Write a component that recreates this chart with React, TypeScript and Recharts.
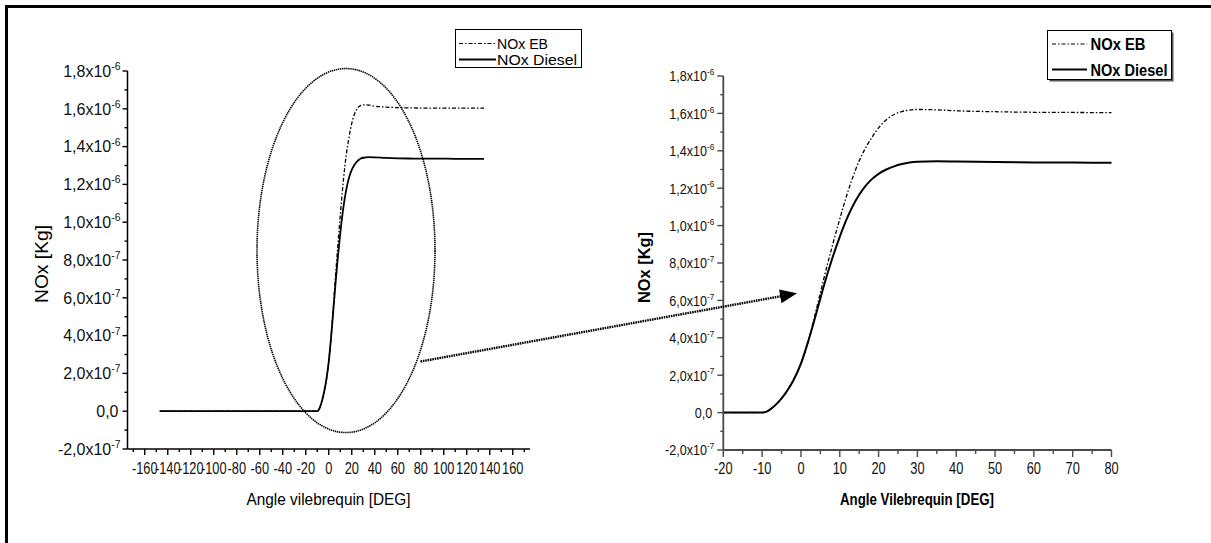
import React from 'react'
import { LineChart, Line, XAxis, YAxis, Legend, ReferenceDot } from 'recharts'

// NOx mass (x 1e-6 kg) vs crank angle (deg)
const angles = [-20, -15, -10, -9, -8, -6, -4, -2, 0, 2, 3, 4, 5, 6, 8, 10, 12, 14, 16, 18, 20, 22, 24, 26, 28, 30, 35, 40, 50, 60, 70, 80]
const noxDiesel = [0, 0, 0, 0.004, 0.016, 0.052, 0.103, 0.17, 0.262, 0.39, 0.46, 0.535, 0.61, 0.685, 0.82, 0.94, 1.045, 1.13, 1.195, 1.243, 1.277, 1.3, 1.317, 1.329, 1.337, 1.341, 1.344, 1.343, 1.34, 1.338, 1.337, 1.336]
const noxEB = [0, 0, 0, 0.004, 0.016, 0.052, 0.103, 0.17, 0.262, 0.39, 0.47, 0.555, 0.64, 0.725, 0.885, 1.035, 1.175, 1.295, 1.39, 1.462, 1.523, 1.566, 1.594, 1.61, 1.618, 1.621, 1.619, 1.614, 1.609, 1.606, 1.605, 1.604]

// extra range shown only on the full-cycle plot
const leadAngles = [-147, -100, -60, -30]
const leadValues = [0, 0, 0, 0]
const tailAngles = [100, 120, 135]
const tailDiesel = [1.336, 1.335, 1.335]
const tailEB = [1.604, 1.604, 1.604]

const yTicks = [-0.2, -0.1, 0, 0.1, 0.2, 0.3, 0.4, 0.5, 0.6, 0.7, 0.8, 0.9, 1.0, 1.1, 1.2, 1.3, 1.4, 1.5, 1.6, 1.7, 1.8]
const leftXTicks = [-170, -160, -150, -140, -130, -120, -110, -100, -90, -80, -70, -60, -50, -40, -30, -20, -10, 0, 10, 20, 30, 40, 50, 60, 70, 80, 90, 100, 110, 120, 130, 140, 150, 160, 170]
const rightXTicks = [-20, -15, -10, -5, 0, 5, 10, 15, 20, 25, 30, 35, 40, 45, 50, 55, 60, 65, 70, 75, 80]

const seriesNames = ['NOx EB', 'NOx Diesel']

const rightData = angles.map((a, i) => ({ angle: a, eb: noxEB[i], diesel: noxDiesel[i] }))
const leftData = [
  ...leadAngles.map((a, i) => ({ angle: a, eb: leadValues[i], diesel: leadValues[i] })),
  ...rightData,
  ...tailAngles.map((a, i) => ({ angle: a, eb: tailEB[i], diesel: tailDiesel[i] })),
]

const FONT = '"Liberation Sans", Arial, Helvetica, sans-serif'
const DASH_DOT = '4 2 1.5 2'

const makeXTick = (step: number, major: number, minor: number, color: string, fontSize: number, sx: number, dy: number) =>
  (props: any) => {
    const { x, y, payload } = props
    const v = Math.round(payload.value)
    const isMajor = v % step === 0
    return (
      <g>
        <line x1={x} x2={x} y1={y} y2={y + (isMajor ? major : minor)} stroke={color} strokeWidth={1.4} />
        {isMajor && (
          <text transform={`translate(${x},${y + dy}) scale(${sx},1)`} textAnchor="middle" fontSize={fontSize} fontFamily={FONT} fill="#111">
            {v}
          </text>
        )}
      </g>
    )
  }

const makeYTick = (major: number, minor: number, color: string, fontSize: number, sx: number, gap: number) =>
  (props: any) => {
    const { x, y, payload } = props
    const k = Math.round(payload.value * 10)
    const isMajor = k % 2 === 0
    let mant = '0,0'
    let exp = ''
    if (k !== 0) {
      const big = Math.abs(k) >= 10
      mant = (big ? k / 10 : k).toFixed(1).replace('.', ',') + 'x10'
      exp = big ? '-6' : '-7'
    }
    return (
      <g>
        <line x1={x - (isMajor ? major : minor)} x2={x} y1={y} y2={y} stroke={color} strokeWidth={1.4} />
        {isMajor && (
          <text transform={`translate(${x - gap - (exp ? 0 : 2)},${y + fontSize * 0.36}) scale(${sx},1)`} textAnchor="end" fontSize={fontSize} fontFamily={FONT} fill="#111">
            {mant}
            {exp && <tspan dy={-fontSize * 0.42} fontSize={fontSize * 0.65}>{exp}</tspan>}
          </text>
        )}
      </g>
    )
  }

const LegendBox = ({ w, h, bold, shadow, rowY, lineX, textX, lengths, fontSize }: any) => (
  <svg width={w + 4} height={h + 4} style={{ display: 'block', overflow: 'visible' }}>
    {shadow && <rect x={2.5} y={2.5} width={w} height={h} fill="#555" />}
    <rect x={0.5} y={0.5} width={w} height={h} fill="#fff" stroke="#000" strokeWidth={1} />
    {seriesNames.map((name, i) => (
      <g key={name}>
        <line x1={lineX[0]} x2={lineX[1]} y1={rowY[i]} y2={rowY[i]} stroke="#000" strokeWidth={i === 0 ? 1.2 : 1.8} strokeDasharray={i === 0 ? DASH_DOT : undefined} />
        <text x={textX} y={rowY[i] + fontSize * 0.36} fontSize={fontSize} fontWeight={bold ? 'bold' : 'normal'} fontFamily={FONT} textLength={lengths[i]} lengthAdjust="spacingAndGlyphs">
          {name}
        </text>
      </g>
    ))}
  </svg>
)

export default function App() {
  return (
    <div style={{ position: 'absolute', left: 0, top: 0, width: 1211, height: 543, background: '#fff', overflow: 'hidden' }}>
      <div style={{ position: 'absolute', left: 0, top: 0 }}>
        <LineChart width={560} height={543} data={leftData} margin={{ top: 71, right: 30, bottom: 64, left: 0 }}>
          <XAxis
            dataKey="angle"
            type="number"
            domain={[-175, 175]}
            ticks={leftXTicks}
            interval={0}
            height={30}
            tickSize={0}
            tickMargin={0}
            tickLine={false}
            axisLine={{ stroke: '#000', strokeWidth: 1.5 }}
            tick={makeXTick(20, 6, 3, '#000', 16, 0.8, 25)}
          />
          <YAxis
            type="number"
            domain={[-0.2, 1.8]}
            ticks={yTicks}
            interval={0}
            width={127.5}
            tickSize={0}
            tickMargin={0}
            tickLine={false}
            axisLine={{ stroke: '#000', strokeWidth: 1.5 }}
            tick={makeYTick(5, 3, '#000', 16, 1, 7)}
          />
          <ReferenceDot
            x={15}
            y={0.85}
            r={0}
            ifOverflow="visible"
            shape={(p: any) => (
              <ellipse cx={p.cx} cy={p.cy} rx={89} ry={182} fill="none" stroke="#000" strokeWidth={1.6} strokeDasharray="1.4 0.7" />
            )}
          />
          <Line type="monotone" dataKey="eb" stroke="#000" strokeWidth={1.3} strokeDasharray={DASH_DOT} dot={false} isAnimationActive={false} />
          <Line type="monotone" dataKey="diesel" stroke="#000" strokeWidth={1.8} dot={false} isAnimationActive={false} />
          <Legend
            layout="horizontal"
            verticalAlign="middle"
            align="center"
            wrapperStyle={{ left: 455, top: 29, width: 130, height: 42 }}
            content={() => (
              <LegendBox w={126} h={38} rowY={[14.5, 30.5]} lineX={[4, 41]} textX={42} lengths={[51, 80]} fontSize={15} />
            )}
          />
        </LineChart>
      </div>

      <div style={{ position: 'absolute', left: 560, top: 0 }}>
        <LineChart width={651} height={543} data={rightData} margin={{ top: 76, right: 99.5, bottom: 63, left: 0 }}>
          <XAxis
            dataKey="angle"
            type="number"
            domain={[-20, 80]}
            ticks={rightXTicks}
            interval={0}
            height={30}
            tickSize={0}
            tickMargin={0}
            tickLine={false}
            axisLine={{ stroke: '#4a4a4a', strokeWidth: 1.8 }}
            tick={makeXTick(10, 7, 4, '#4a4a4a', 16, 0.8, 24)}
          />
          <YAxis
            type="number"
            domain={[-0.2, 1.8]}
            ticks={yTicks}
            interval={0}
            width={163.3}
            tickSize={0}
            tickMargin={0}
            tickLine={false}
            axisLine={{ stroke: '#4a4a4a', strokeWidth: 1.8 }}
            tick={makeYTick(6, 3, '#4a4a4a', 15, 0.84, 9)}
          />
          <Line type="monotone" dataKey="eb" stroke="#000" strokeWidth={1.3} strokeDasharray={DASH_DOT} dot={false} isAnimationActive={false} />
          <Line type="monotone" dataKey="diesel" stroke="#000" strokeWidth={2} dot={false} isAnimationActive={false} />
          <Legend
            layout="horizontal"
            verticalAlign="middle"
            align="center"
            wrapperStyle={{ left: 487, top: 30, width: 130, height: 55 }}
            content={() => (
              <LegendBox w={124} h={49} rowY={[14, 39.5]} lineX={[5, 40]} textX={43.5} lengths={[55, 77]} fontSize={17} bold shadow />
            )}
          />
        </LineChart>
      </div>

      <svg width={1211} height={543} style={{ position: 'absolute', left: 0, top: 0, pointerEvents: 'none' }}>
        <line x1={5} y1={6.5} x2={1211} y2={6.5} stroke="#000" strokeWidth={3} />
        <line x1={6.5} y1={5} x2={6.5} y2={543} stroke="#000" strokeWidth={3} />
        <text transform="translate(48,264) rotate(-90)" textAnchor="middle" fontSize={18} fontFamily={FONT} textLength={78} lengthAdjust="spacingAndGlyphs">
          NOx [Kg]
        </text>
        <text x={328.5} y={505} textAnchor="middle" fontSize={17} fontFamily={FONT} textLength={164} lengthAdjust="spacingAndGlyphs">
          Angle vilebrequin [DEG]
        </text>
        <text transform="translate(650,267.5) rotate(-90)" textAnchor="middle" fontSize={16} fontWeight="bold" fontFamily={FONT} textLength={71} lengthAdjust="spacingAndGlyphs">
          NOx [Kg]
        </text>
        <text x={917} y={505} textAnchor="middle" fontSize={17} fontWeight="bold" fontFamily={FONT} textLength={154} lengthAdjust="spacingAndGlyphs">
          Angle Vilebrequin [DEG]
        </text>
        <line x1={420.5} y1={361.5} x2={781} y2={296.2} stroke="#000" strokeWidth={2.4} strokeDasharray="1.6 0.8" />
        <polygon points="797,293.3 781.5,303.2 779.1,289.4" fill="#000" />
      </svg>
    </div>
  )
}
